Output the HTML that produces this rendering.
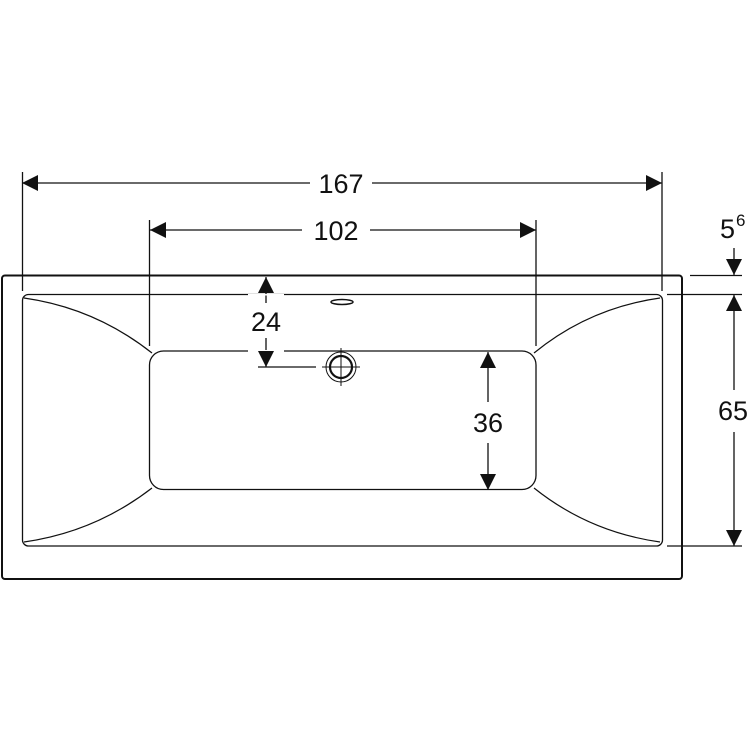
<!DOCTYPE html>
<html><head><style>body{margin:0;background:#fff}svg{display:block}text{font-family:"Liberation Sans",sans-serif;font-size:27px;fill:#111}</style></head><body>
<svg width="750" height="750" viewBox="0 0 750 750" xmlns="http://www.w3.org/2000/svg">
<g fill="none" stroke="#111">
<rect x="2" y="275.5" width="680" height="303.5" rx="3" stroke-width="2"/>
<rect x="22.5" y="294.5" width="640" height="251.5" rx="6" stroke-width="1.3"/>
<rect x="149.5" y="351" width="386.5" height="138.5" rx="14" stroke-width="1.3"/>
<path d="M24 298 Q95 308 152 353" stroke-width="1.2"/>
<path d="M660 298 Q589 308 534 353" stroke-width="1.2"/>
<path d="M24 542 Q95 532 152 488" stroke-width="1.2"/>
<path d="M660 542 Q589 532 534 488" stroke-width="1.2"/>
<g stroke-width="1.3">
<line x1="22.5" y1="172" x2="22.5" y2="291"/>
<line x1="662" y1="172" x2="662" y2="291"/>
<line x1="149.5" y1="220" x2="149.5" y2="346"/>
<line x1="536" y1="220" x2="536" y2="346"/>
<line x1="22" y1="183" x2="310" y2="183"/><line x1="372" y1="183" x2="662" y2="183"/>
<line x1="150" y1="230" x2="302" y2="230"/><line x1="370" y1="230" x2="536" y2="230"/>
<line x1="690" y1="275.5" x2="742" y2="275.5"/>
<line x1="667" y1="294.5" x2="742" y2="294.5"/>
<line x1="667" y1="546" x2="742" y2="546"/>
<line x1="734" y1="248" x2="734" y2="275"/>
<line x1="734" y1="295" x2="734" y2="390"/><line x1="734" y1="432" x2="734" y2="546"/>
<line x1="266" y1="277" x2="266" y2="303"/><line x1="266" y1="338" x2="266" y2="367"/>
<line x1="258" y1="367" x2="316" y2="367"/>
<line x1="488" y1="352" x2="488" y2="402"/><line x1="488" y1="443" x2="488" y2="490"/>
<circle cx="341" cy="367" r="15" stroke-width="1"/>
<circle cx="341" cy="367" r="11" stroke-width="2.2"/>
<line x1="322" y1="367" x2="360" y2="367" stroke-width="1"/>
<line x1="341" y1="348" x2="341" y2="386" stroke-width="1"/>
</g>
<ellipse cx="342" cy="302" rx="11" ry="2.5" stroke-width="1.5"/>
</g>
<rect x="248" y="294" width="36" height="1.5" fill="#fff"/>
<rect x="248" y="350" width="36" height="2" fill="#fff"/>
<g fill="#111">
<polygon points="22,183 38,175 38,191"/>
<polygon points="662,183 646,175 646,191"/>
<polygon points="150,230 166,222 166,238"/>
<polygon points="536,230 520,222 520,238"/>
<polygon points="734,275 726,259 742,259"/>
<polygon points="734,295 726,311 742,311"/>
<polygon points="734,546 726,530 742,530"/>
<polygon points="266,277 258,293 274,293"/>
<polygon points="266,367 258,351 274,351"/>
<polygon points="488,352 480,368 496,368"/>
<polygon points="488,490 480,474 496,474"/>
</g>
<text x="341" y="193" text-anchor="middle">167</text>
<text x="336" y="240" text-anchor="middle">102</text>
<text x="266" y="331" text-anchor="middle">24</text>
<text x="488" y="432" text-anchor="middle">36</text>
<text x="733" y="420" text-anchor="middle">65</text>
<text x="720" y="238">5</text><text x="736" y="226" style="font-size:17px">6</text>
</svg>
</body></html>
